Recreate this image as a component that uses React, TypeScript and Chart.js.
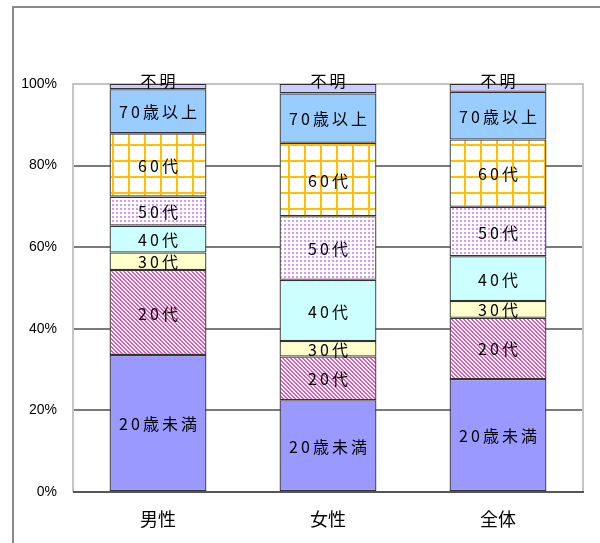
import React, { useEffect, useRef } from "react";
import { Chart, registerables } from "chart.js";

Chart.register(...registerables);

const categories = ["男性", "女性", "全体"];
const seriesNames = ["20歳未満", "20代", "30代", "40代", "50代", "60代", "70歳以上", "不明"];
const under20 = [33.6, 22.5, 27.7];
const age20s = [20.8, 10.7, 15.0];
const age30s = [4.3, 3.8, 4.1];
const age40s = [6.6, 15.0, 11.0];
const age50s = [7.1, 15.6, 12.1];
const age60s = [15.5, 18.0, 16.5];
const over70 = [10.8, 12.1, 11.7];
const unknown = [1.3, 2.3, 1.9];
const yTickValues = [0, 20, 40, 60, 80, 100];

function makeTile(size: number, draw: (c: CanvasRenderingContext2D) => void) {
  const c = document.createElement("canvas");
  c.width = size;
  c.height = size;
  const g = c.getContext("2d")!;
  draw(g);
  const p = document.createElement("canvas").getContext("2d")!.createPattern(c, "repeat");
  return p as CanvasPattern;
}

function diagPattern() {
  return makeTile(4, (g) => {
    g.fillStyle = "#ffffff";
    g.fillRect(0, 0, 4, 4);
    g.fillStyle = "#e458b8";
    for (let y = 0; y < 4; y++) {
      for (let x = 0; x < 4; x++) {
        const d = (((x - y) % 4) + 4) % 4;
        if (d === 0 || d === 1) g.fillRect(x, y, 1, 1);
      }
    }
  });
}

function dotPattern() {
  return makeTile(4, (g) => {
    g.fillStyle = "#ffffff";
    g.fillRect(0, 0, 4, 4);
    g.fillStyle = "#d795ff";
    g.fillRect(0, 0, 2, 2);
  });
}

function gridPattern() {
  return makeTile(16, (g) => {
    g.fillStyle = "#ffffff";
    g.fillRect(0, 0, 16, 16);
    g.fillStyle = "#ffc000";
    g.fillRect(0, 0, 2, 16);
    g.fillRect(0, 0, 16, 2);
  });
}

const labelFont = '16px "Noto Sans CJK JP"';

const framePlugin = {
  id: "frameAndLabels",
  beforeDraw(chart: any) {
    const ctx = chart.ctx;
    ctx.save();
    ctx.fillStyle = "#ffffff";
    ctx.fillRect(0, 0, chart.width, chart.height);
    ctx.strokeStyle = "#8a8a8a";
    ctx.lineWidth = 2;
    ctx.beginPath();
    ctx.moveTo(13, chart.height);
    ctx.lineTo(13, 7);
    ctx.lineTo(chart.width, 7);
    ctx.stroke();
    ctx.restore();
  },
  beforeDatasetsDraw(chart: any) {
    const ctx = chart.ctx;
    const a = chart.chartArea;
    ctx.save();
    ctx.strokeStyle = "#c4c4c4";
    ctx.lineWidth = 2;
    ctx.beginPath();
    ctx.moveTo(a.left, a.bottom);
    ctx.lineTo(a.left, a.top);
    ctx.lineTo(a.right, a.top);
    ctx.lineTo(a.right, a.bottom);
    ctx.stroke();
    ctx.strokeStyle = "#555555";
    ctx.beginPath();
    ctx.moveTo(a.left, a.bottom);
    ctx.lineTo(a.right + 1, a.bottom);
    ctx.stroke();
    ctx.restore();
  },
  afterDatasetsDraw(chart: any) {
    const ctx = chart.ctx;
    ctx.save();
    ctx.font = labelFont;
    ctx.fillStyle = "#000000";
    ctx.textAlign = "center";
    ctx.textBaseline = "middle";
    const sp = 3;
    (ctx as any).letterSpacing = sp + "px";
    const n = chart.data.datasets.length;
    for (let i = 0; i < n; i++) {
      const meta = chart.getDatasetMeta(i);
      meta.data.forEach((el: any) => {
        const p = el.getProps(["x", "y", "base"], true);
        const top = Math.min(p.y, p.base);
        let cy = (p.y + p.base) / 2;
        if (i === n - 1) cy = top - 4;
        ctx.fillText(chart.data.datasets[i].label, p.x + sp / 2, cy + 1);
      });
    }
    ctx.restore();
  },
};

export default function App() {
  const ref = useRef<HTMLCanvasElement>(null);
  useEffect(() => {
    const canvas = ref.current!;
    const fills = [
      "#9999ff",
      diagPattern(),
      "#ffffcc",
      "#ccffff",
      dotPattern(),
      gridPattern(),
      "#99ccff",
      "#ccccff",
    ];
    const values = [under20, age20s, age30s, age40s, age50s, age60s, over70, unknown];
    const chart = new Chart(canvas, {
      type: "bar",
      data: {
        labels: categories,
        datasets: seriesNames.map((name, i) => ({
          label: name,
          data: values[i],
          backgroundColor: fills[i] as any,
          borderColor: "#333333",
          borderWidth: 1.3,
          borderSkipped: false,
          categoryPercentage: 1,
          barPercentage: 0.57,
        })),
      },
      options: {
        responsive: false,
        maintainAspectRatio: false,
        animation: false,
        devicePixelRatio: 1,
        layout: { padding: { top: 84, right: 17, left: 0, bottom: 0 } },
        plugins: {
          legend: { display: false },
          tooltip: { enabled: false },
        },
        scales: {
          x: {
            stacked: true,
            grid: { display: false, drawTicks: false },
            border: { display: false },
            ticks: {
              color: "#000000",
              font: { family: '"Noto Sans CJK JP"', size: 18 },
              padding: 16,
              maxRotation: 0,
            },
            afterFit: (s: any) => {
              s.height = 51;
            },
          },
          y: {
            stacked: true,
            min: 0,
            max: 100,
            afterBuildTicks: (s: any) => {
              s.ticks = yTickValues.map((v) => ({ value: v }));
            },
            grid: {
              drawTicks: false,
              lineWidth: 2,
              color: (c: any) => (c.tick && c.tick.value === 100 ? "#c4c4c4" : c.tick && c.tick.value === 0 ? "#555555" : "#7a7a7a"),
            },
            border: { display: false },
            ticks: {
              color: "#000000",
              font: { family: '"Liberation Sans"', size: 14 },
              padding: 16,
              callback: (v: any) => v + "%",
            },
            afterFit: (s: any) => {
              s.width = 73;
            },
          },
        },
      },
      plugins: [framePlugin],
    });
    return () => chart.destroy();
  }, []);
  return (
    <div style={{ position: "absolute", left: 0, top: 0, width: 600, height: 543 }}>
      <canvas ref={ref} width={600} height={543} style={{ width: 600, height: 543, display: "block" }} />
    </div>
  );
}
